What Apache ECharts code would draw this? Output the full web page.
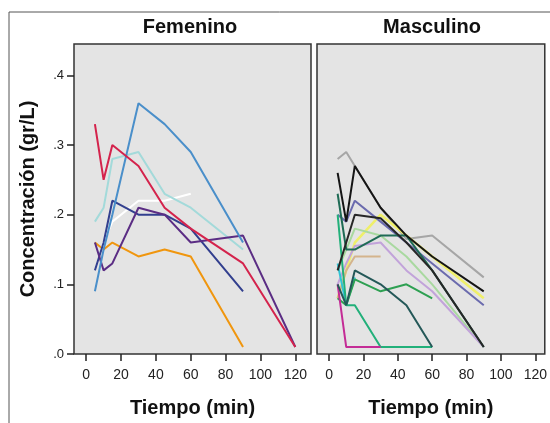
<!DOCTYPE html>
<html>
<head>
<meta charset="utf-8">
<script src="https://cdn.jsdelivr.net/npm/echarts@6/dist/echarts.min.js"></script>
<style>
html,body{margin:0;padding:0;background:#fff;}
#c{width:550px;height:423px;}
</style>
</head>
<body>
<div id="c"></div>
<script>
// ---- data ----
const panelTitles = ['Femenino', 'Masculino'];
const xTicks = [0, 20, 40, 60, 80, 100, 120];
const yTicks = [0, 0.1, 0.2, 0.3, 0.4];
const yTickLabels = ['.0', '.1', '.2', '.3', '.4'];

const femTimes = [5, 10, 15, 30, 45, 60, 90, 120];
const femOrange = [0.16, 0.15, 0.16, 0.14, 0.15, 0.14, 0.01, null];
const femWhite  = [0.12, 0.16, 0.19, 0.22, 0.22, 0.23, null, null];
const femCyan   = [0.19, 0.21, 0.28, 0.29, 0.23, 0.21, 0.15, null];
const femNavy   = [0.12, 0.16, 0.22, 0.20, 0.20, 0.18, 0.09, null];
const femPurple = [0.16, 0.12, 0.13, 0.21, 0.20, 0.16, 0.17, 0.01];
const femBlue   = [0.09, 0.15, 0.20, 0.36, 0.33, 0.29, 0.16, null];
const femRed    = [0.33, 0.25, 0.30, 0.27, 0.21, 0.18, 0.13, 0.01];

const masTimes = [5, 10, 15, 30, 45, 60, 90];
const masGray      = [0.28, 0.29, 0.27, 0.21, 0.165, 0.17, 0.11];
const masYellow    = [0.08, 0.12, 0.16, 0.20, 0.17, 0.14, 0.08];
const masLightGrn  = [0.12, 0.15, 0.18, 0.17, 0.14, 0.10, 0.01];
const masLavender  = [0.10, 0.13, 0.155, 0.16, 0.12, 0.09, 0.01];
const masTan       = [0.08, 0.12, 0.14, 0.14, null, null, null];
const masSlate     = [0.20, 0.19, 0.22, 0.19, 0.16, 0.13, 0.07];
const masCyan      = [0.13, 0.07, 0.11, null, null, null, null];
const masGreen     = [0.08, 0.07, 0.107, 0.09, 0.10, 0.08, null];
const masTealGrn   = [0.20, 0.07, 0.07, 0.01, 0.01, 0.01, null];
const masMagenta   = [0.10, 0.01, 0.01, 0.01, null, null, null];
const masDarkTeal  = [0.10, 0.07, 0.12, 0.10, 0.07, 0.01, null];
const masDarkGrn   = [0.23, 0.15, 0.15, 0.17, 0.17, 0.12, 0.01];
const masBlack2    = [0.12, 0.16, 0.20, 0.195, 0.16, 0.12, 0.01];
const masBlack1    = [0.26, 0.19, 0.27, 0.21, 0.17, 0.14, 0.09];

// ---- build ----
function pairs(times, vals) {
  const out = [];
  times.forEach((t, i) => { if (vals[i] !== null) out.push([t, vals[i]]); });
  return out;
}
function line(idx, times, vals, color, w) {
  return {
    type: 'line', xAxisIndex: idx, yAxisIndex: idx,
    data: pairs(times, vals), symbol: 'none',
    lineStyle: { color: color, width: w || 2 },
    itemStyle: { color: color }, z: 3
  };
}

const series = [
  line(0, femTimes, femOrange, '#f0960e'),
  line(0, femTimes, femWhite, '#ffffff'),
  line(0, femTimes, femCyan, '#a3dada'),
  line(0, femTimes, femNavy, '#323f8e'),
  line(0, femTimes, femPurple, '#5b2d84'),
  line(0, femTimes, femBlue, '#4a8fca'),
  line(0, femTimes, femRed, '#d4234c'),

  line(1, masTimes, masGray, '#a6a6a6'),
  line(1, masTimes, masYellow, '#efef6a', 2.5),
  line(1, masTimes, masLightGrn, '#a9d9a0'),
  line(1, masTimes, masLavender, '#c2a3da'),
  line(1, masTimes, masTan, '#d4b48c'),
  line(1, masTimes, masSlate, '#6b6bae'),
  line(1, masTimes, masCyan, '#2ec4d4'),
  line(1, masTimes, masGreen, '#2ea052'),
  line(1, masTimes, masTealGrn, '#22b07a'),
  line(1, masTimes, masMagenta, '#c42c96'),
  line(1, masTimes, masDarkTeal, '#245858'),
  line(1, masTimes, masDarkGrn, '#1f6b55'),
  line(1, masTimes, masBlack2, '#262626'),
  line(1, masTimes, masBlack1, '#151515')
];

const font = "'Liberation Sans', Arial, sans-serif";
const gridStyle = { show: true, backgroundColor: '#e4e4e4', borderColor: '#333', borderWidth: 1.5 };

function xAxis(idx) {
  return {
    type: 'value', gridIndex: idx, min: -7, max: idx === 0 ? 129 : 125.5,
    name: 'Tiempo (min)', nameLocation: 'middle', nameGap: 44, nameMoveOverlap: false,
    nameTextStyle: { fontFamily: font, fontWeight: 'bold', fontSize: 20, color: '#111' },
    axisLine: { show: false, onZero: false },
    splitLine: { show: false },
    axisTick: { show: true, inside: false, length: 7, customValues: xTicks, lineStyle: { color: '#222', width: 1.5 } },
    axisLabel: { customValues: xTicks, margin: 14, fontFamily: font, fontSize: 14, color: '#222' }
  };
}
function yAxis(idx) {
  const show = idx === 0;
  return {
    type: 'value', gridIndex: idx, min: 0, max: 0.445,
    name: show ? 'Concentración (gr/L)' : '', nameLocation: 'middle', nameGap: 36, nameMoveOverlap: false,
    nameTextStyle: { fontFamily: font, fontWeight: 'bold', fontSize: 20, color: '#111' },
    axisLine: { show: false, onZero: false },
    splitLine: { show: false },
    axisTick: { show: show, inside: false, length: 7, customValues: yTicks, lineStyle: { color: '#222', width: 1.5 } },
    axisLabel: {
      show: show, customValues: yTicks, margin: 10, fontFamily: font, fontSize: 13, color: '#222',
      formatter: function (v) {
        const i = yTicks.findIndex(t => Math.abs(t - v) < 1e-6);
        return i >= 0 ? yTickLabels[i] : '';
      }
    }
  };
}

const chart = echarts.init(document.getElementById('c'), null, { renderer: 'canvas' });
chart.setOption({
  animation: false,
  backgroundColor: '#ffffff',
  title: [
    { text: panelTitles[0], left: 190, top: 17, textAlign: 'center', padding: 0,
      textStyle: { fontFamily: font, fontWeight: 'bold', fontSize: 20, color: '#111' } },
    { text: panelTitles[1], left: 432, top: 17, textAlign: 'center', padding: 0,
      textStyle: { fontFamily: font, fontWeight: 'bold', fontSize: 20, color: '#111' } }
  ],
  grid: [
    Object.assign({ left: 74, top: 44, width: 237, height: 310 }, gridStyle),
    Object.assign({ left: 317, top: 44, width: 230, height: 310 }, gridStyle)
  ],
  xAxis: [xAxis(0), xAxis(1)],
  yAxis: [yAxis(0), yAxis(1)],
  graphic: [{
    type: 'polyline', silent: true,
    shape: { points: [[9, 423], [9, 12], [550, 12]] },
    style: { stroke: '#555', lineWidth: 1, fill: null }
  }],
  series: series
});
</script>
</body>
</html>
